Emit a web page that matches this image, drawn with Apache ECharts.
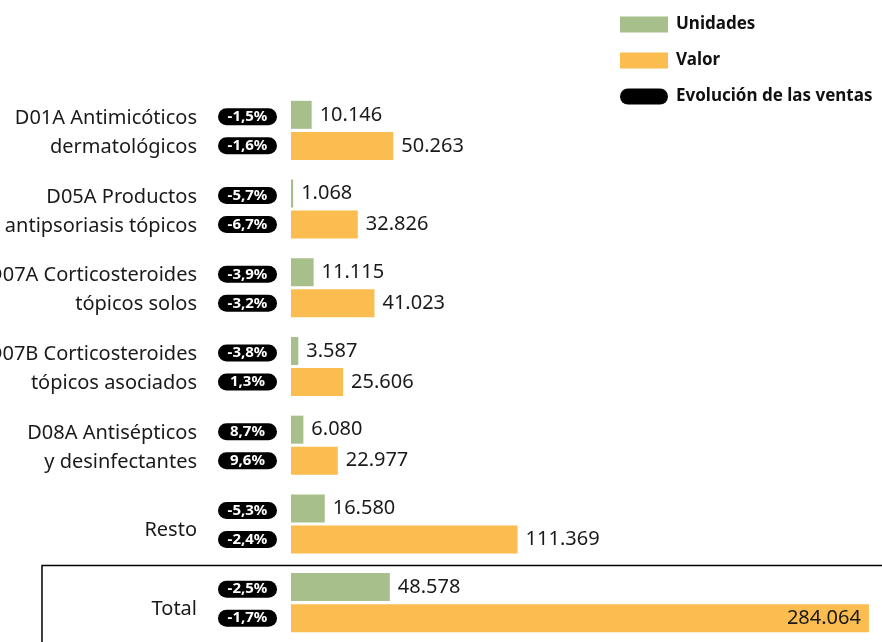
<!DOCTYPE html>
<html>
    <head>
        <meta charset="utf-8">
        <title>Ventas dermatológicos</title>
        <script src="https://cdn.jsdelivr.net/npm/echarts@6/dist/echarts.min.js"></script>
    </head>
    <body style="margin:0;">
        <div id="main" style="width:882px;height:642px;"></div>
        <script type="text/javascript">
            // datos
            var categorias = [
                'D01A Antimicóticos\ndermatológicos',
                'D05A Productos\nantipsoriasis tópicos',
                'D07A Corticosteroides\ntópicos solos',
                'D07B Corticosteroides\ntópicos asociados',
                'D08A Antisépticos\ny desinfectantes',
                'Resto',
                'Total'
            ];
            var unidades = [10146, 1068, 11115, 3587, 6080, 16580, 48578];
            var valor = [50263, 32826, 41023, 25606, 22977, 111369, 284064];
            var evolUnidades = ['-1,5%', '-5,7%', '-3,9%', '-3,8%', '8,7%', '-5,3%', '-2,5%'];
            var evolValor = ['-1,6%', '-6,7%', '-3,2%', '1,3%', '9,6%', '-2,4%', '-1,7%'];

            var verde = '#a7bf8a';
            var naranja = '#fbbc50';

            function miles(v) {
                return String(v).replace(/\B(?=(\d{3})+(?!\d))/g, '.');
            }

            var pillData = categorias.map(function (c, i) {
                return [0, i, evolUnidades[i], evolValor[i]];
            });

            var mychart = echarts.init(document.getElementById('main'));
            var option = {
                animation: false,
                legend: {
                    orient: 'vertical',
                    left: 615,
                    top: 11,
                    itemWidth: 48,
                    itemHeight: 16,
                    itemGap: 19,
                    textStyle: { fontSize: 17, fontWeight: 'bold', color: '#111', fontFamily: 'Noto Sans', padding: [0, 0, 0, 3] },
                    data: [
                        { name: 'Unidades', icon: 'rect' },
                        { name: 'Valor', icon: 'rect' },
                        { name: 'Evolución de las ventas', icon: 'path://M8,0 H40 A8,8 0 0 1 40,16 H8 A8,8 0 0 1 8,0 Z' }
                    ]
                },
                grid: { left: 291, right: 1, top: 91, bottom: 0, containLabel: false, outerBoundsMode: 'none' },
                xAxis: { type: 'value', min: 0, max: 290000, show: false },
                yAxis: {
                    type: 'category',
                    inverse: true,
                    data: categorias,
                    axisLine: { show: false },
                    axisTick: { show: false },
                    axisLabel: {
                        margin: 94,
                        fontSize: 20,
                        lineHeight: 29,
                        color: '#1a1a1a',
                        fontFamily: 'Noto Sans',
                        align: 'right',
                        padding: [5, 0, 0, 0],
                        formatter: function (v) {
                            return v.indexOf('\n') < 0 ? '{b|' + v + '}' : v;
                        },
                        rich: {
                            b: { fontSize: 20, fontFamily: 'Noto Sans', color: '#1a1a1a', padding: [8, 0, 0, 0] }
                        }
                    }
                },
                graphic: [{
                    type: 'polyline',
                    shape: { points: [[42, 642], [42, 565.5], [882, 565.5]] },
                    style: { stroke: '#000', lineWidth: 1.5, fill: null }
                }],
                series: [
                    {
                        name: 'Unidades',
                        type: 'bar',
                        barWidth: 28,
                        barGap: '11%',
                        itemStyle: { color: verde },
                        data: unidades,
                        label: {
                            show: true,
                            position: 'right',
                            distance: 8,
                            fontSize: 20,
                            color: '#1a1a1a',
                            fontFamily: 'Noto Sans',
                            formatter: function (p) { return miles(p.value); }
                        }
                    },
                    {
                        name: 'Valor',
                        type: 'bar',
                        barWidth: 28,
                        itemStyle: { color: naranja },
                        data: valor.map(function (v, i) {
                            if (i === valor.length - 1) {
                                return { value: v, label: { position: 'insideRight', distance: 8 } };
                            }
                            return v;
                        }),
                        label: {
                            show: true,
                            position: 'right',
                            distance: 8,
                            fontSize: 20,
                            color: '#1a1a1a',
                            fontFamily: 'Noto Sans',
                            formatter: function (p) { return miles(p.value); }
                        }
                    },
                    {
                        name: 'Evolución de las ventas',
                        type: 'custom',
                        itemStyle: { color: '#000' },
                        encode: { x: 0, y: 1 },
                        data: pillData,
                        renderItem: function (params, api) {
                            var pt = api.coord([0, api.value(1)]);
                            var right = pt[0] - 14;
                            var w = 59, h = 17;
                            var offs = [-14.5, 14.5];
                            var txts = [api.value(2), api.value(3)];
                            var kids = [];
                            offs.forEach(function (o, k) {
                                var cy = pt[1] + o + 1;
                                kids.push({
                                    type: 'rect',
                                    shape: { x: right - w, y: cy - h / 2, width: w, height: h, r: 8.5 },
                                    style: { fill: '#000' },
                                    textContent: {
                                        style: {
                                            text: txts[k],
                                            fill: '#fff',
                                            fontSize: 15,
                                            fontWeight: 'bold',
                                            fontFamily: 'Noto Sans'
                                        }
                                    },
                                    textConfig: { position: 'inside' }
                                });
                            });
                            return { type: 'group', children: kids };
                        }
                    }
                ]
            };
            mychart.setOption(option);
        </script>
    </body>
</html>
